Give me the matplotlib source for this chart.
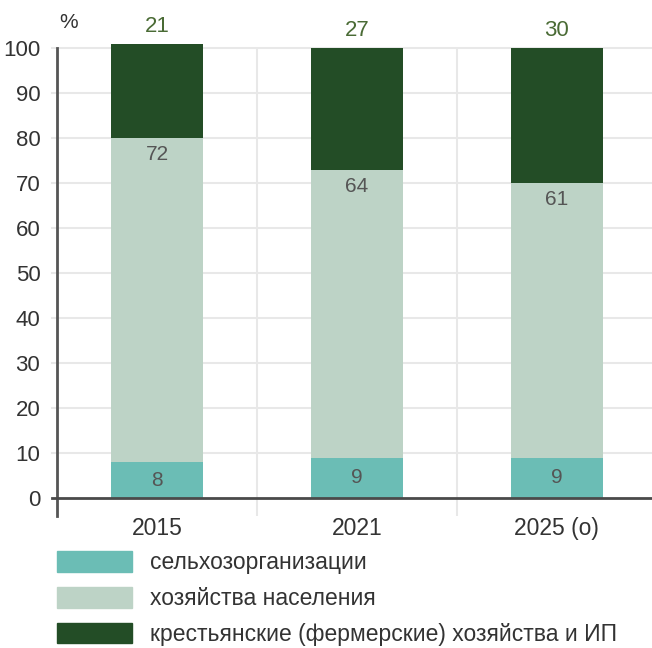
import matplotlib
matplotlib.use("Agg")
import matplotlib.pyplot as plt
from matplotlib.patches import Patch
import numpy as np

plt.rcParams["font.family"] = ["Liberation Sans", "DejaVu Sans"]

years = ["2015", "2021", "2025 (о)"]
selkhoz = [8, 9, 9]
naselenie = [72, 64, 61]
fermery = [21, 27, 30]
series_names = ["сельхозорганизации", "хозяйства населения",
                "крестьянские (фермерские) хозяйства и ИП"]
COLORS = ["#6bbdb5", "#bdd3c6", "#234d26"]

fig = plt.figure(figsize=(6.52, 6.48), dpi=100)
ax = fig.add_axes([0.0874, 0.2037, 0.92, 0.7361])

x = np.arange(len(years))
w = 0.46
bottom2 = np.array(selkhoz)
bottom3 = bottom2 + np.array(naselenie)
ax.bar(x, selkhoz, w, color=COLORS[0], zorder=3)
ax.bar(x, naselenie, w, bottom=bottom2, color=COLORS[1], zorder=3)
ax.bar(x, fermery, w, bottom=bottom3, color=COLORS[2], zorder=3)

# подписи значений
for i in range(len(years)):
    ax.text(x[i], selkhoz[i] / 2, str(selkhoz[i]), ha="center", va="center",
            fontsize=15, color="#555555", zorder=4)
    ax.text(x[i], bottom3[i] - 1.6, str(naselenie[i]), ha="center", va="top",
            fontsize=15, color="#555555", zorder=4)
    ax.text(x[i], bottom3[i] + fermery[i] + 1.5, str(fermery[i]), ha="center",
            va="bottom", fontsize=16, color="#4a6b35", zorder=4)

ax.set_xlim(-0.5, 2.5)
ax.set_ylim(-4, 102)
ax.set_yticks(range(0, 101, 10))
ax.set_xticks(x)
ax.set_xticklabels(years)

# сетка
for yv in range(10, 101, 10):
    ax.plot([-0.525, 2.5], [yv, yv], color="#e8e8e8", lw=1.5, zorder=1, clip_on=False)
ax.vlines([0.5, 1.5, 2.49], -4, 100, color="#e8e8e8", lw=1.5, zorder=1)
ax.plot([-0.525, 2.5], [0, 0], color="#4a4a4a", lw=2, zorder=5, clip_on=False)

for s in ["top", "right", "bottom"]:
    ax.spines[s].set_visible(False)
ax.spines["left"].set_bounds(-4, 100)
ax.spines["left"].set_color("#555555")
ax.spines["left"].set_linewidth(2)

ax.tick_params(axis="y", length=0, pad=12, labelsize=16, labelcolor="#333333")
ax.tick_params(axis="x", length=0, pad=1, labelsize=16.5, labelcolor="#333333")

ax.text(-0.49, 103.5, "%", fontsize=15, color="#333333", ha="left", va="bottom")

handles = [Patch(color=c) for c in COLORS]
fig.legend(handles, series_names, loc="upper left", bbox_to_anchor=(0.087, 0.149),
           frameon=False, fontsize=16.5, handlelength=3.3, handleheight=0.98,
           handletextpad=0.78, labelspacing=0.56, borderaxespad=0, borderpad=0,
           labelcolor="#333333")

fig.savefig("out.png", dpi=100)
